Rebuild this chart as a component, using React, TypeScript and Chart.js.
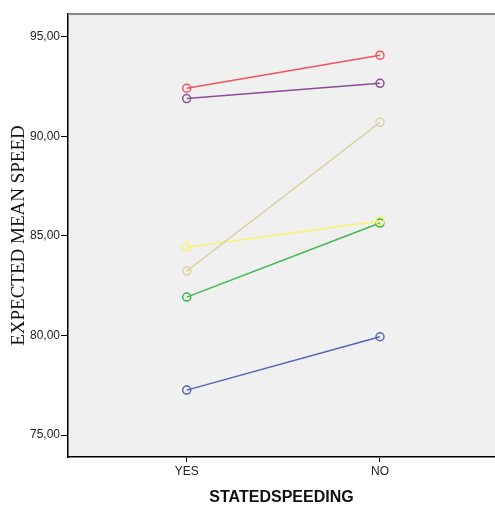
import React, { useEffect, useRef } from "react";
import { Chart, registerables } from "chart.js";

Chart.register(...registerables);

const categories = ["YES", "NO"];
const yTicks = [75, 80, 85, 90, 95];
const seriesRed = [92.42, 94.08];
const seriesPurple = [91.9, 92.67];
const seriesKhaki = [83.24, 90.71];
const seriesYellow = [84.43, 85.75];
const seriesGreen = [81.93, 85.65];
const seriesBlue = [77.26, 79.94];

const seriesList = [
  { data: seriesRed, color: "#f4525c" },
  { data: seriesPurple, color: "#8b4c98" },
  { data: seriesKhaki, color: "#d8d3a0" },
  { data: seriesYellow, color: "#f6f46a" },
  { data: seriesGreen, color: "#3fb94e" },
  { data: seriesBlue, color: "#5064bb" },
];

const bgPlugin = {
  id: "plotBg",
  beforeDraw(chart: any) {
    const { ctx, chartArea } = chart;
    ctx.save();
    ctx.fillStyle = "#f0f0f0";
    ctx.fillRect(chartArea.left, chartArea.top, chartArea.right - chartArea.left, chartArea.bottom - chartArea.top);
    ctx.restore();
  },
  afterDraw(chart: any) {
    const { ctx, chartArea } = chart;
    ctx.save();
    ctx.strokeStyle = "#8a8a8a";
    ctx.lineWidth = 2;
    ctx.beginPath();
    ctx.moveTo(chartArea.left, chartArea.top);
    ctx.lineTo(chartArea.right, chartArea.top);
    ctx.stroke();
    ctx.restore();
  },
};

export default function App() {
  const ref = useRef<HTMLCanvasElement>(null);
  useEffect(() => {
    if (!ref.current) return;
    const chart = new Chart(ref.current, {
      type: "line",
      data: {
        datasets: seriesList.map((s) => ({
          data: s.data.map((v, i) => ({ x: i, y: v })),
          borderColor: s.color,
          backgroundColor: "rgba(0,0,0,0)",
          pointBorderColor: s.color,
          pointBackgroundColor: "rgba(0,0,0,0)",
          pointRadius: 4,
          pointBorderWidth: 1.5,
          borderWidth: 1.5,
          tension: 0,
        })),
      },
      options: {
        animation: false,
        responsive: false,
        maintainAspectRatio: false,
        layout: { padding: { top: 14, right: 0, left: 0, bottom: 0 }, autoPadding: false },
        plugins: { legend: { display: false }, tooltip: { enabled: false } },
        scales: {
          x: {
            type: "linear",
            min: -0.614,
            max: 1.595,
            afterBuildTicks: (axis: any) => {
              axis.ticks = categories.map((_, i) => ({ value: i }));
            },
            afterFit: (axis: any) => {
              axis.height = 50;
              axis.paddingLeft = 0;
              axis.paddingRight = 0;
            },
            ticks: {
              callback: (v: any) => categories[v] ?? "",
              color: "#222",
              font: { family: "Liberation Sans, Arial", size: 12 },
              padding: 2,
              maxRotation: 0,
            },
            grid: { drawOnChartArea: false, drawTicks: true, tickLength: 5, color: "#000" },
            border: { display: true, color: "#000", width: 1.5 },
            title: {
              display: true,
              text: "STATEDSPEEDING",
              color: "#111",
              font: { family: "Liberation Sans, Arial", size: 16, weight: "bold" },
              padding: { top: 5, bottom: 0 },
            },
          },
          y: {
            min: 73.9,
            max: 96.15,
            afterBuildTicks: (axis: any) => {
              axis.ticks = yTicks.map((v) => ({ value: v }));
            },
            afterFit: (axis: any) => {
              axis.width = 68;
            },
            ticks: {
              callback: (v: any) => Number(v).toFixed(2).replace(".", ","),
              color: "#222",
              font: { family: "Liberation Sans, Arial", size: 12 },
              padding: 1,
            },
            grid: { drawOnChartArea: false, drawTicks: true, tickLength: 7, color: "#000" },
            border: { display: true, color: "#000", width: 1.5 },
            title: {
              display: true,
              text: "EXPECTED MEAN SPEED",
              color: "#111",
              font: { family: "Liberation Serif, Times New Roman", size: 19 },
              padding: { top: 8, bottom: 0 },
            },
          },
        },
      },
      plugins: [bgPlugin],
    } as any);
    return () => chart.destroy();
  }, []);
  return (
    <div style={{ position: "fixed", left: 0, top: 0, width: 495, height: 507, background: "#fff" }}>
      <canvas ref={ref} width={495} height={507} style={{ width: 495, height: 507 }} />
    </div>
  );
}
